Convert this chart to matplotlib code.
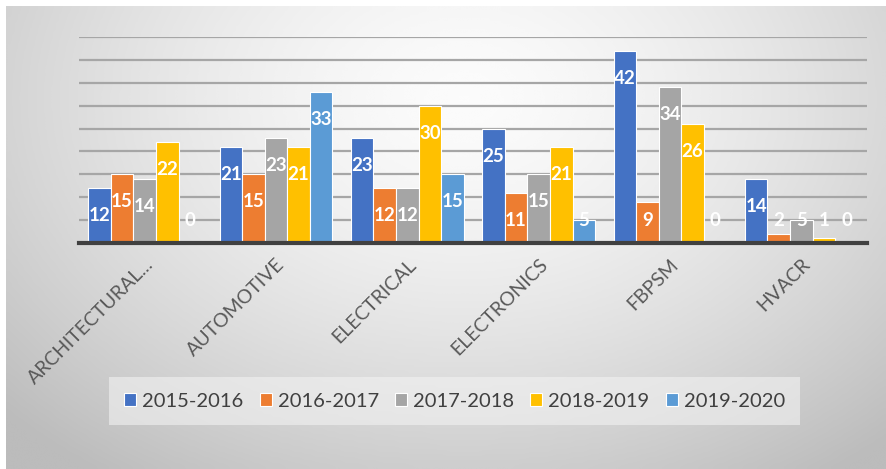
import numpy as np
import matplotlib
matplotlib.use('Agg')
from matplotlib import pyplot as plt

# enrolment per program and school year
programs = ['ARCHITECTURAL...', 'AUTOMOTIVE', 'ELECTRICAL', 'ELECTRONICS', 'FBPSM', 'HVACR']
years = ['2015-2016', '2016-2017', '2017-2018', '2018-2019', '2019-2020']
y2015 = [12, 21, 23, 25, 42, 14]
y2016 = [15, 15, 12, 11, 9, 2]
y2017 = [14, 23, 12, 15, 34, 5]
y2018 = [22, 21, 30, 21, 26, 1]
y2019 = [0, 33, 15, 5, 0, 0]

colors = ['#4472C4', '#ED7D31', '#A5A5A5', '#FFC000', '#5B9BD5']
fnt = 'Lato'
W, H = 887, 469

fig = plt.figure(figsize=(W/100., H/100.), dpi=100, facecolor='white')

# radial grey backdrop of the chart area
bg = fig.add_axes([6./W, 0, 1-6./W, 1-6./H], zorder=-5)
gx, gy = np.meshgrid(np.linspace(0, 1, 300), np.linspace(0, 1, 160))
r = np.sqrt(((gx-0.52)/0.72)**2 + ((gy-0.2)/1.0)**2)
shade = 0.985 - 0.25*np.clip(r, 0, 1)**1.5
bg.imshow(shade, cmap='gray', vmin=0, vmax=1, aspect='auto', extent=(0, 1, 0, 1), interpolation='bicubic')
bg.set_axis_off()

ax = fig.add_axes([79./W, 1-243./H, (867.-79.)/W, (243.-37.)/H])
ax.set_facecolor('none')

x = np.arange(len(programs))
w = 0.172
series = [y2015, y2016, y2017, y2018, y2019]
for i, vals in enumerate(series):
    pos = x + (i-2)*w
    ax.bar(pos, vals, width=w, color=colors[i], edgecolor='white', linewidth=0.8,
           label=years[i], zorder=3)
    for p, v in zip(pos, vals):
        ax.text(p, max(v-6, 5), '%d' % v, ha='center', va='center', color='white',
                fontsize=13.5, fontweight='bold', family=fnt, zorder=4)

ax.set_xlim(-0.5, 5.5)
ax.set_ylim(0, 45)
ax.set_yticks(np.arange(5, 46, 5))
ax.yaxis.grid(True, color='#a6a6a6', linewidth=1.6, zorder=1)
ax.tick_params(axis='y', left=False, labelleft=False)
ax.tick_params(axis='x', length=0, pad=9)
for s in ['top', 'left', 'right']:
    ax.spines[s].set_visible(False)
ax.spines['bottom'].set_color('#404040')
ax.spines['bottom'].set_linewidth(3)
ax.spines['bottom'].set_zorder(5)

ax.set_xticks(x)
ax.set_xticklabels(programs, rotation=45, ha='right', rotation_mode='anchor',
                   fontsize=14, color='#595959', family=fnt)

leg = fig.legend(loc='center', bbox_to_anchor=(454.5/W, 1-401./H), ncol=5,
                 frameon=True, handlelength=0.6, handleheight=0.6,
                 handletextpad=0.3, columnspacing=0.8, borderpad=0.75,
                 prop={'family': fnt, 'size': 14.5})
leg.get_frame().set_facecolor('#f2f2f2')
leg.get_frame().set_alpha(0.6)
leg.get_frame().set_edgecolor('none')
leg.get_frame().set_boxstyle('square', pad=0.0)
for t in leg.get_texts():
    t.set_color('#404040')

fig.savefig('out.png', dpi=100)
